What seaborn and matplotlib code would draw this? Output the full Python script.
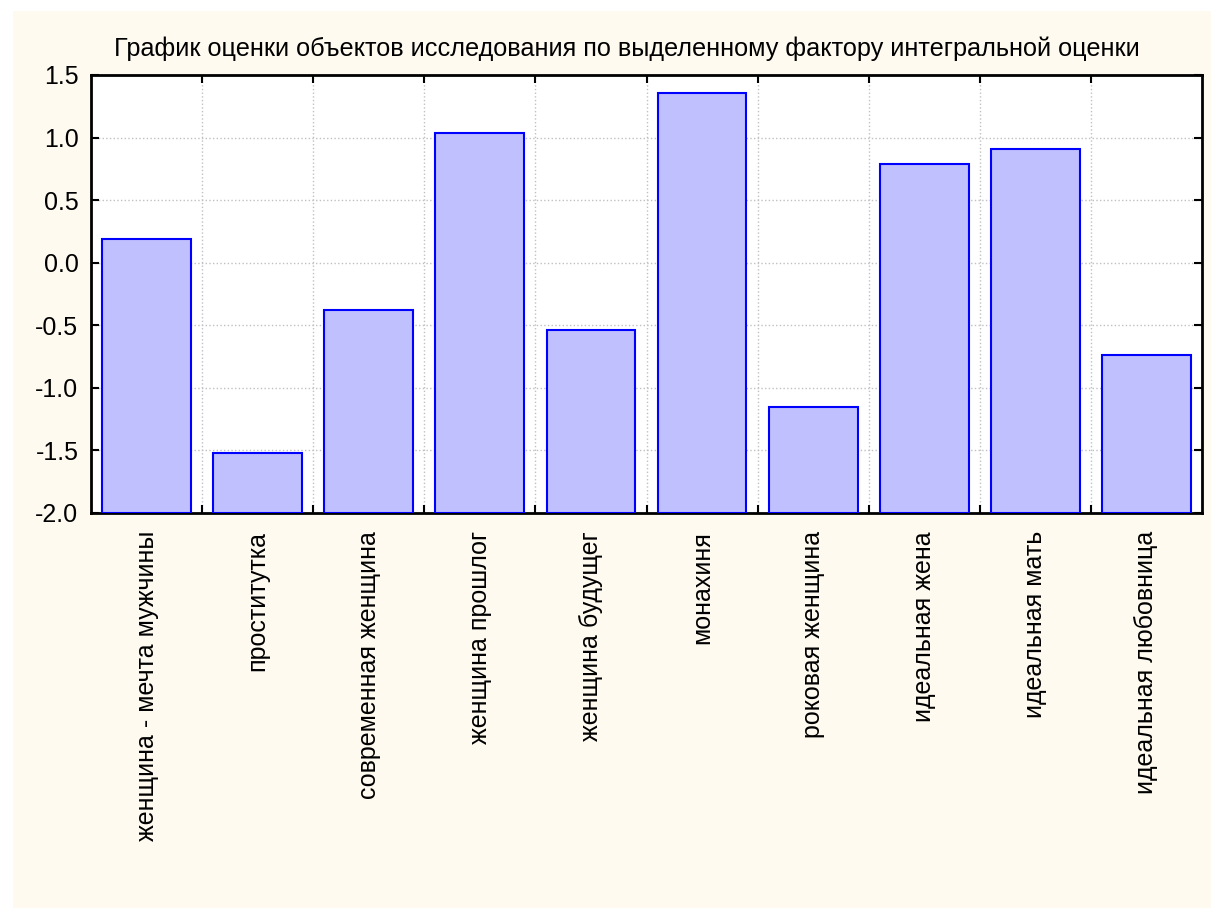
import numpy as np
import pandas as pd
import seaborn as sns
import matplotlib.pyplot as plt
from matplotlib.patches import Rectangle
from matplotlib.ticker import MultipleLocator, FixedLocator


# Data
objects = ['женщина - мечта мужчины', 'проститутка', 'современная женщина',
           'женщина прошлог', 'женщина будущег', 'монахиня', 'роковая женщина',
           'идеальная жена', 'идеальная мать', 'идеальная любовница']
scores = [0.19, -1.52, -0.38, 1.04, -0.54, 1.36, -1.15, 0.79, 0.91, -0.74]

base = -2.0
df = pd.DataFrame({'object': objects, 'score': scores})
df['height'] = df['score'] - base

sns.set_style('white')
plt.rcParams['font.family'] = ['Liberation Sans', 'DejaVu Sans']
plt.rcParams['axes.unicode_minus'] = False
plt.rcParams['text.color'] = 'black'

fig = plt.figure(figsize=(12.11, 9.08), dpi=100)
fig.patch.set_facecolor('white')
# cream panel behind everything
fig.patches.append(Rectangle((13 / 1211, 0), 1, 1 - 11 / 908, transform=fig.transFigure,
                             facecolor='#fefaf0', edgecolor='none', zorder=-10))

ax = fig.add_axes([91 / 1211, 1 - 513 / 908, (1202 - 91) / 1211, (513 - 75) / 908])
ax.set_facecolor('white')

sns.barplot(data=df, x='object', y='height', bottom=base, color='#c0c0ff',
            edgecolor='#0000ff', linewidth=1.5, width=0.8, saturation=1, ax=ax, zorder=3)

ax.set_ylim(-2.0, 1.5)
ax.set_xlim(-0.5, len(objects) - 0.5)
ax.yaxis.set_major_locator(MultipleLocator(0.5))
ax.yaxis.set_major_formatter(plt.FuncFormatter(lambda v, p: f'{v:.1f}'))
ax.xaxis.set_minor_locator(FixedLocator(np.arange(0.5, len(objects) - 0.5, 1)))

ax.grid(True, axis='y', which='major', color='#c0c0c0', linestyle=':', linewidth=1, zorder=0)
ax.grid(True, axis='x', which='minor', color='#c0c0c0', linestyle=':', linewidth=1, zorder=0)
ax.set_axisbelow(True)

ax.tick_params(axis='y', which='major', direction='in', length=6, width=1.5,
               left=True, right=True, labelsize=18, labelcolor='black', color='black', pad=9)
ax.tick_params(axis='x', which='major', length=0, labelsize=18, labelcolor='black', pad=13)
ax.tick_params(axis='x', which='minor', direction='in', length=6, width=1.5,
               bottom=True, top=True, color='black')
for s in ax.spines.values():
    s.set_color('black')
    s.set_linewidth(2)

ax.set_xticks(range(len(objects)))
ax.set_xticklabels(objects, rotation=90, va='top', ha='center')
ax.set_xlabel('')
ax.set_ylabel('')
ax.set_title('График оценки объектов исследования по выделенному фактору интегральной оценки',
             fontsize=18.2, pad=14, color='black', x=0.4825)

fig.savefig('out.png', dpi=100, facecolor=fig.get_facecolor())
